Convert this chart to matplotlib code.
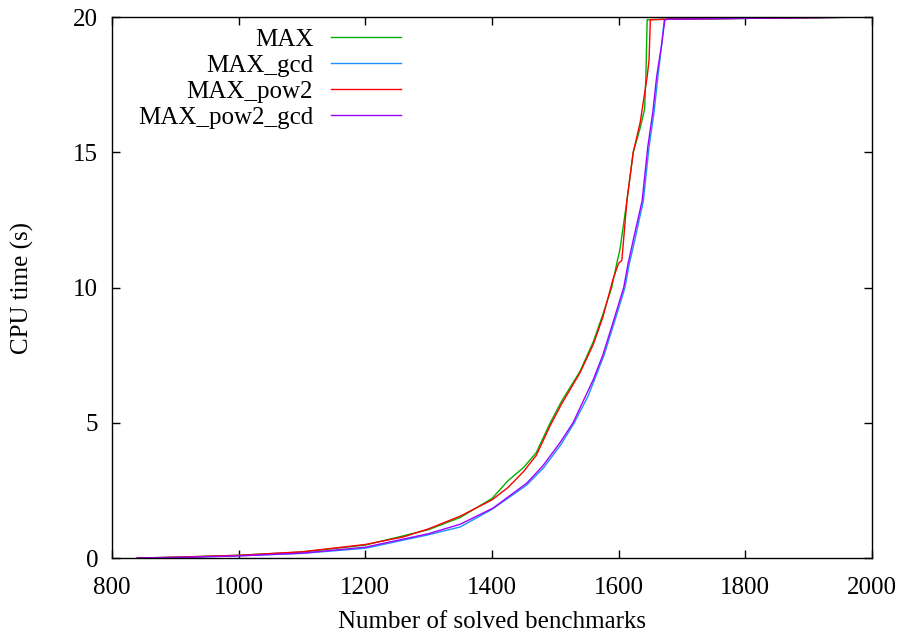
import matplotlib.pyplot as plt

plt.rcParams["font.family"] = ["Liberation Serif", "DejaVu Serif"]
plt.rcParams["font.size"] = 18

# Cumulative solve curves: number of solved benchmarks vs CPU time (s)
max_x = [840, 900, 1000, 1100, 1200, 1260, 1300, 1350, 1400, 1425, 1450, 1470, 1492,
         1510, 1539, 1560, 1575, 1589, 1598, 1602, 1613, 1623, 1634, 1641, 1643, 1645,
         1680, 2000]
max_y = [0.0, 0.03, 0.1, 0.22, 0.48, 0.82, 1.05, 1.5, 2.2, 2.85, 3.35, 3.9, 5.0,
         5.8, 6.9, 8.0, 9.0, 10.0, 11.0, 11.4, 13.2, 15.0, 15.9, 16.6, 17.8, 19.9,
         19.92, 20.0]

gcd_x = [840, 900, 1000, 1100, 1200, 1300, 1350, 1400, 1455, 1482, 1509, 1530, 1552,
         1562, 1577, 1593, 1610, 1617, 1625, 1639, 1648, 1656, 1662, 1668, 1672,
         1680, 2000]
gcd_y = [0.0, 0.02, 0.08, 0.17, 0.36, 0.86, 1.15, 1.8, 2.7, 3.35, 4.2, 5.0, 6.0,
         6.6, 7.5, 8.7, 10.0, 10.9, 11.7, 13.2, 15.2, 16.5, 17.8, 19.0, 19.9,
         19.92, 20.0]

pow2_x = [840, 900, 1000, 1100, 1200, 1260, 1300, 1350, 1400, 1425, 1450, 1470, 1492,
          1510, 1539, 1560, 1575, 1591, 1600, 1605, 1613, 1623, 1634, 1645, 1648, 1650,
          1680, 2000]
pow2_y = [0.0, 0.03, 0.1, 0.23, 0.5, 0.78, 1.08, 1.55, 2.15, 2.6, 3.2, 3.8, 4.9,
          5.7, 6.85, 7.9, 8.9, 10.3, 10.9, 11.0, 13.2, 15.0, 16.1, 17.8, 18.4, 19.9,
          19.92, 20.0]

pow2_gcd_x = [840, 900, 1000, 1100, 1200, 1300, 1350, 1402, 1455, 1480, 1507, 1528,
              1550, 1560, 1575, 1591, 1608, 1615, 1623, 1637, 1646, 1654, 1660, 1668,
              1673, 1680, 2000]
pow2_gcd_y = [0.0, 0.02, 0.08, 0.18, 0.4, 0.9, 1.25, 1.85, 2.77, 3.4, 4.25, 5.0,
              6.1, 6.6, 7.5, 8.7, 10.0, 10.9, 11.75, 13.2, 15.2, 16.5, 17.8, 19.0,
              19.9, 19.92, 20.0]

series = [
    ("MAX", max_x, max_y, "#00b000"),
    ("MAX_gcd", gcd_x, gcd_y, "#1e90ff"),
    ("MAX_pow2", pow2_x, pow2_y, "#ff0000"),
    ("MAX_pow2_gcd", pow2_gcd_x, pow2_gcd_y, "#a000ff"),
]

fig = plt.figure(figsize=(9.01, 6.37), dpi=100)
ax = fig.add_axes([0.1243, 0.124, 0.8435, 0.8493])

for label, xs, ys, color in series:
    ax.plot(xs, ys, color=color, linewidth=1.0, label=label)

ax.set_xlim(800, 2000)
ax.set_ylim(0, 20)
ax.set_xticks([800, 1000, 1200, 1400, 1600, 1800, 2000])
ax.set_yticks([0, 5, 10, 15, 20])
ax.tick_params(direction="in", length=6, width=1, top=True, right=True)
ax.tick_params(axis="x", pad=14)
ax.tick_params(axis="y", pad=10)
for side in ax.spines.values():
    side.set_linewidth(1.0)

ax.set_xlabel("Number of solved benchmarks", labelpad=8)
ax.set_ylabel("CPU time (s)", labelpad=28)

ax.legend(loc="upper left", frameon=False, markerfirst=False, handlelength=2.8,
          handletextpad=0.7, labelspacing=0.14, borderaxespad=0.0,
          bbox_to_anchor=(0.021, 0.997))

fig.savefig("out.png", dpi=100)
